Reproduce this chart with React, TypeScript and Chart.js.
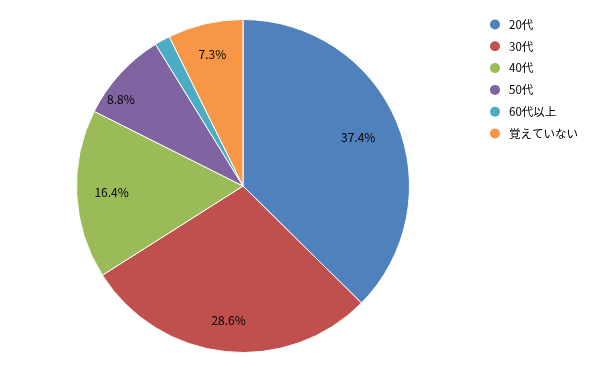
import React, { useEffect, useRef } from "react";
import { Chart, registerables } from "chart.js";

Chart.register(...registerables);

const categories = ["20代", "30代", "40代", "50代", "60代以上", "覚えていない"];
const values = [37.4, 28.6, 16.4, 8.8, 1.5, 7.3];
const valueLabels = ["37.4%", "28.6%", "16.4%", "8.8%", "", "7.3%"];
const colors = ["#4F81BD", "#C0504D", "#9BBB59", "#8064A2", "#4BACC6", "#F79646"];

const FONT = '"Noto Sans CJK JP", "Noto Sans", sans-serif';

export default function App() {
  const ref = useRef<HTMLCanvasElement | null>(null);
  useEffect(() => {
    document.body.style.margin = "0";
    const labelFrac = [0.75, 0.81, 0.79, 0.9, 0.8, 0.81];
    const angleShift = [0, 0, 0, -7, 0, 0];
    const plugin = {
      id: "custom",
      afterDatasetsDraw(chart: any) {
        const ctx = chart.ctx;
        const meta = chart.getDatasetMeta(0);
        ctx.save();
        ctx.font = `12px ${FONT}`;
        ctx.fillStyle = "#000";
        ctx.textAlign = "center";
        ctx.textBaseline = "middle";
        meta.data.forEach((arc: any, i: number) => {
          if (!valueLabels[i]) return;
          const mid = (arc.startAngle + arc.endAngle) / 2 + (angleShift[i] * Math.PI) / 180;
          const r = arc.outerRadius * labelFrac[i];
          ctx.fillText(valueLabels[i], arc.x + Math.cos(mid) * r, arc.y + Math.sin(mid) * r);
        });
        // legend
        ctx.font = `11.5px ${FONT}`;
        ctx.textAlign = "left";
        categories.forEach((c, i) => {
          const y = 24.5 + i * 21.8;
          ctx.beginPath();
          ctx.arc(495, y, 5, 0, Math.PI * 2);
          ctx.fillStyle = colors[i];
          ctx.fill();
          ctx.fillStyle = "#000";
          ctx.fillText(c, 509, y);
        });
        ctx.restore();
      },
    };
    const chart = new Chart(ref.current!, {
      type: "pie",
      data: {
        labels: categories,
        datasets: [
          {
            data: values,
            backgroundColor: colors,
            borderColor: "#ffffff",
            borderWidth: 1,
          },
        ],
      },
      options: {
        animation: false,
        responsive: false,
        layout: { padding: { left: 76, right: 190, top: 19, bottom: 18 } },
        plugins: { legend: { display: false }, tooltip: { enabled: false } },
      },
      plugins: [plugin],
    });
    return () => chart.destroy();
  }, []);
  return (
    <div style={{ width: 600, height: 371, background: "#fff" }}>
      <canvas ref={ref} width={600} height={371} style={{ display: "block" }} />
    </div>
  );
}
